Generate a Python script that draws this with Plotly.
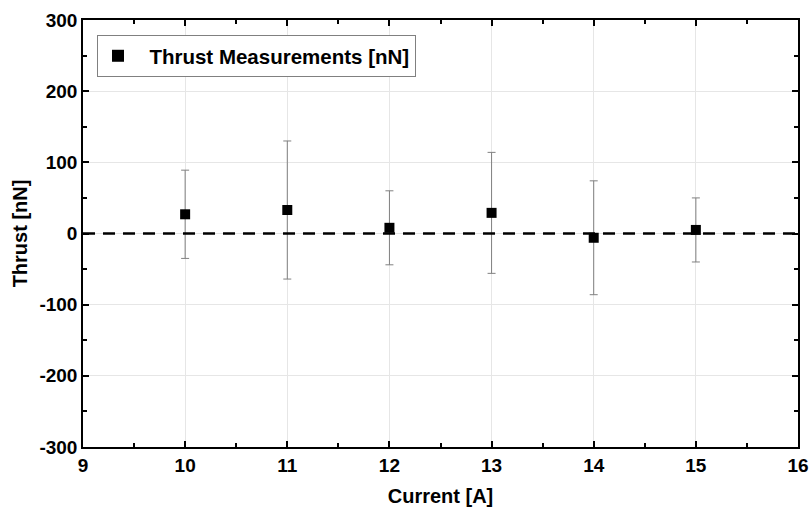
import plotly.graph_objects as go

current = [10, 11, 12, 13, 14, 15]
thrust = [27, 33, 8, 29, -6, 5]
thrust_err = [62, 97, 52, 85, 80, 45]
x_ticks = [9, 10, 11, 12, 13, 14, 15, 16]
y_ticks = [-300, -200, -100, 0, 100, 200, 300]
y_tick_labels = ["-300", "-200", "-100", "0", "100", "200", "300"]

font = "Liberation Sans, Arial, sans-serif"

fig = go.Figure()
fig.add_trace(go.Scatter(
    x=current, y=thrust, mode="markers",
    name="&nbsp;&nbsp;<b>Thrust Measurements [nN]</b>",
    marker=dict(symbol="square", size=10, color="black"),
    error_y=dict(type="data", array=thrust_err, visible=True,
                 color="#808080", thickness=1, width=4),
))

fig.add_hline(y=0, line=dict(color="black", width=2.5, dash="12px,8px"), layer="above")

axis_common = dict(
    showline=True, linecolor="black", linewidth=1.5, mirror="ticks",
    ticks="inside", ticklen=6, tickwidth=1.5, tickcolor="black",
    showgrid=True, gridcolor="#e6e6e6", gridwidth=1, zeroline=False,
    automargin=False,
    tickfont=dict(family=font, size=19, color="black", weight="bold"),
)

fig.update_xaxes(range=[9, 16], tickvals=x_ticks,
                 minor=dict(dtick=0.5, ticks="inside", ticklen=4, tickcolor="black", tickwidth=1.5, showgrid=False),
                 title=dict(text="<b>Current [A]</b>", font=dict(family=font, size=20, color="black"), standoff=14),
                 **axis_common)
fig.update_yaxes(range=[-300, 300], tickvals=y_ticks, ticktext=y_tick_labels,
                 minor=dict(dtick=50, ticks="inside", ticklen=4, tickcolor="black", tickwidth=1.5, showgrid=False),
                 title=dict(text="<b>Thrust [nN]</b>", font=dict(family=font, size=20, color="black"), standoff=6),
                 **axis_common)

fig.update_layout(
    width=811, height=507,
    margin=dict(l=83, r=13, t=20, b=60),
    plot_bgcolor="white", paper_bgcolor="white",
    showlegend=True,
    legend=dict(x=0.0196, y=0.965, xanchor="left", yanchor="top",
                bordercolor="#808080", borderwidth=1, bgcolor="white",
                font=dict(family=font, size=20.5, color="black"),
                itemsizing="constant"),
)

fig.write_html("out.html", config={"displayModeBar": False},
               post_script="document.body.style.margin='0';document.body.style.overflow='hidden';")
